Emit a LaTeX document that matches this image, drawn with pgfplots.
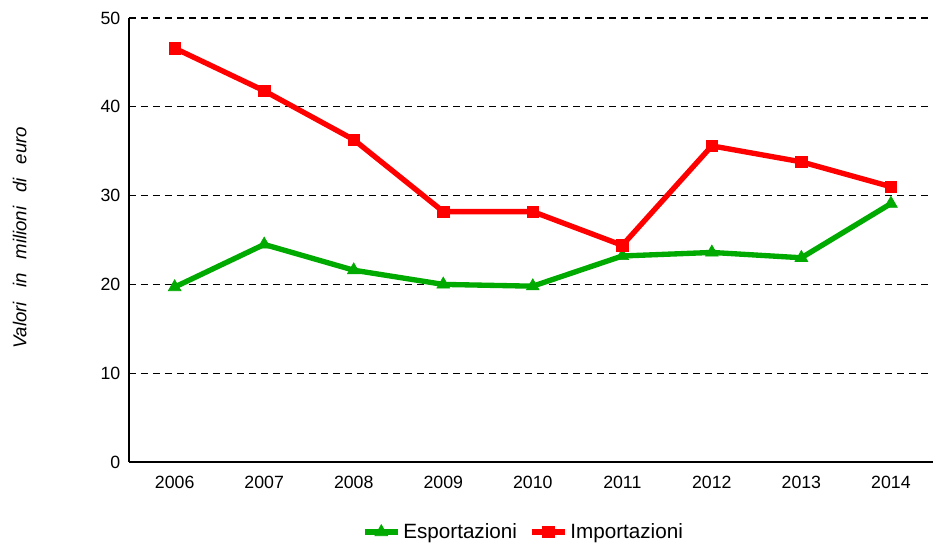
\documentclass[border=0pt]{standalone}
\usepackage{pgfplots}
\pgfplotsset{compat=1.18}
\usepackage{fontspec}
\setmainfont{Liberation Sans}
\definecolor{cgreen}{RGB}{0,170,0}
\definecolor{cred}{RGB}{255,0,0}
\begin{document}
\begin{tikzpicture}
\useasboundingbox (-96.75pt,-63.75pt) rectangle (603pt,346.5pt);
\begin{axis}[
  scale only axis,
  width=603pt, height=333pt,
  at={(0,0)}, anchor=south west,
  xmin=-0.51, xmax=8.47,
  ymin=0, ymax=50,
  ytick={0,10,20,30,40,50},
  xtick={0,...,8},
  xticklabels={2006,2007,2008,2009,2010,2011,2012,2013,2014},
  axis x line*=bottom, axis y line*=left,
  axis line style={black, line width=1.2pt, -},
  tick style={draw=none},
  ymajorgrids,
  grid style={black, line width=0.8pt, dash pattern=on 5.25pt off 3.75pt},
  /pgf/number format/assume math mode=true,
  ticklabel style={font=\fontsize{13.3}{15}\selectfont},
  yticklabel style={xshift=-3pt},
  xticklabel style={yshift=-7pt},
  ylabel={Valori\hspace{10.5pt}in\hspace{10.5pt}milioni\hspace{10.5pt}di\hspace{10.5pt}euro},
  ylabel style={at={(axis description cs:-0.136,0.505)}, anchor=center, rotate=0, font=\itshape\fontsize{14}{16}\selectfont},
  legend style={at={(axis description cs:0.491,0)}, anchor=center, yshift=-52.5pt, draw=none, font=\fontsize{15.5}{17}\selectfont, /tikz/every even column/.append style={column sep=7pt}, /tikz/every odd column/.append style={column sep=0pt}},
  legend columns=2,
  legend image code/.code={\draw[#1, mark repeat=2, mark phase=2] plot coordinates {(0pt,0pt) (12.5pt,0pt) (25pt,0pt)};},
]
\addplot[cgreen, line width=4pt, mark=triangle*, mark size=5.5pt, mark options={solid, line width=0.5pt}] coordinates {
(0,19.7) (1,24.5) (2,21.6) (3,20.0) (4,19.8) (5,23.2) (6,23.6) (7,23.0) (8,29.1)};
\addlegendentry{Esportazioni}
\addplot[cred, line width=4pt, mark=square*, mark size=4.3pt, mark options={solid, line width=0.5pt}] coordinates {
(0,46.6) (1,41.8) (2,36.3) (3,28.2) (4,28.2) (5,24.4) (6,35.6) (7,33.8) (8,31.0)};
\addlegendentry{Importazioni}
\end{axis}
\end{tikzpicture}
\end{document}
